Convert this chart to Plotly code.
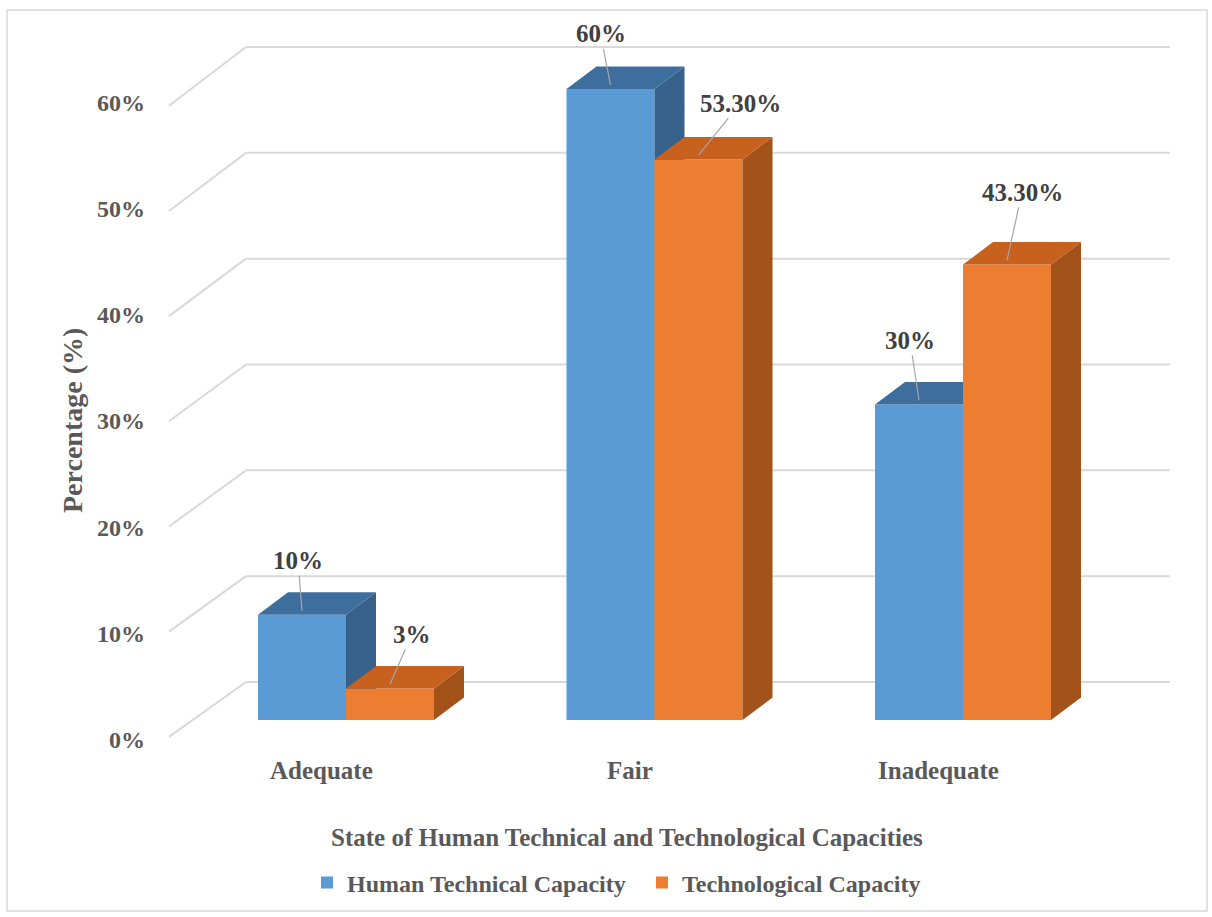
import plotly.graph_objects as go

# ---------------- data ----------------
categories = ["Adequate", "Fair", "Inadequate"]
human_technical = [10, 60, 30]
technological = [3, 53.3, 43.3]
human_labels = ["10%", "60%", "30%"]
tech_labels = ["3%", "53.30%", "43.30%"]
y_ticks = [0, 10, 20, 30, 40, 50, 60]
series_names = ["Human Technical Capacity", "Technological Capacity"]
x_title = "State of Human Technical and Technological Capacities"
y_title = "Percentage (%)"

# ---------------- styling / geometry ----------------
W, H = 1212, 917
PX0, PXS = 346.0, 308.5     # pixel of category 0 centre, pixels per category
PY0, PYS = 720.0, 10.517    # pixel of 0 %, pixels per 1 %


def xd(px):
    return (px - PX0) / PXS


def yd(py):
    return (PY0 - py) / PYS


BAR_W = 88 / PXS
DX, DY = 30 / PXS, 22.5 / PYS

FONT = "Liberation Serif"
TXT = "#595959"
BLUE, BLUE_TOP, BLUE_SIDE = "#5B9BD5", "#3E6E9E", "#35618B"
ORANGE, ORANGE_TOP, ORANGE_SIDE = "#ED7D31", "#C8601E", "#A3521A"
GRID = "#D9D9D9"

# label offsets in pixels (text position relative to bar top)
human_lbl_off = [(-4, -50), (-10, -51), (-9, -60)]
tech_lbl_off = [(22, -50), (42, -52), (15, -68)]

fig = go.Figure()


def add_series(vals, offset, name, c_front, c_top, c_side, yaxis):
    xs = list(range(len(vals)))
    fig.add_trace(go.Bar(
        x=xs, y=vals, width=BAR_W, offset=offset, name=name,
        marker=dict(color=c_front, line=dict(width=0)),
        yaxis=yaxis, hoverinfo="skip", showlegend=True))
    for i, v in enumerate(vals):
        x0 = i + offset
        x1 = x0 + BAR_W
        fig.add_trace(go.Scatter(
            x=[x1, x1 + DX, x1 + DX, x1, x1], y=[0, DY, v + DY, v, 0],
            fill="toself", fillcolor=c_side, mode="lines",
            line=dict(width=0, color=c_side), yaxis=yaxis,
            hoverinfo="skip", showlegend=False))
        fig.add_trace(go.Scatter(
            x=[x0, x0 + DX, x1 + DX, x1, x0], y=[v, v + DY, v + DY, v, v],
            fill="toself", fillcolor=c_top, mode="lines",
            line=dict(width=0, color=c_top), yaxis=yaxis,
            hoverinfo="skip", showlegend=False))


add_series(human_technical, -BAR_W, series_names[0], BLUE, BLUE_TOP, BLUE_SIDE, "y")
add_series(technological, 0, series_names[1], ORANGE, ORANGE_TOP, ORANGE_SIDE, "y2")

# back wall gridlines and diagonals
shapes = []
front_x, back_x, right_x = xd(169), xd(246), xd(1170)
for v in y_ticks:
    by = yd(682) + v * 1.0063
    fy = v - 1.6
    shapes.append(dict(type="line", xref="x", yref="y", x0=back_x, x1=right_x,
                       y0=by, y1=by, line=dict(color=GRID, width=2), layer="below"))
    shapes.append(dict(type="line", xref="x", yref="y", x0=front_x, x1=back_x,
                       y0=fy, y1=by, line=dict(color=GRID, width=2), layer="below"))
# outer chart border
shapes.append(dict(type="rect", xref="paper", yref="paper",
                   x0=7 / W, x1=1207 / W, y0=1 - 911 / H, y1=1 - 10 / H,
                   line=dict(color="#D9D9D9", width=1.5), layer="below"))

annotations = []
# y tick labels
for v in y_ticks:
    annotations.append(dict(x=xd(147), y=v * 1.0095 - 1.9, xref="x", yref="y",
                            text=f"{v}%", showarrow=False, xanchor="right",
                            yanchor="middle",
                            font=dict(family=FONT, size=24, color=TXT, weight="bold")))
# category labels
for i, c in enumerate(categories):
    annotations.append(dict(x=i - 25 / PXS, y=yd(770), xref="x", yref="y",
                            text=c, showarrow=False, xanchor="center", yanchor="middle",
                            font=dict(family=FONT, size=25, color=TXT, weight="bold")))
# data labels with leader lines
for vals, labels, offs, off in [(human_technical, human_labels, human_lbl_off, -BAR_W / 2),
                                (technological, tech_labels, tech_lbl_off, BAR_W / 2)]:
    for i, (v, t, (ax, ay)) in enumerate(zip(vals, labels, offs)):
        annotations.append(dict(x=i + off, y=v + 0.4, xref="x", yref="y", text=t,
                                showarrow=True, arrowhead=0, arrowwidth=1.2,
                                arrowcolor="#A6A6A6", ax=ax, ay=ay, standoff=0,
                                font=dict(family=FONT, size=25, color="#404040",
                                          weight="bold")))
# axis titles
annotations.append(dict(x=627 / W, y=1 - 837 / H, xref="paper", yref="paper",
                        text=x_title, showarrow=False, xanchor="center", yanchor="middle",
                        font=dict(family=FONT, size=25, color=TXT, weight="bold")))
annotations.append(dict(x=72 / W, y=1 - 421 / H, xref="paper", yref="paper",
                        text=y_title, showarrow=False, textangle=-90,
                        xanchor="center", yanchor="middle",
                        font=dict(family=FONT, size=28, color=TXT, weight="bold")))

xr = [xd(0), xd(W)]
yr = [yd(H), yd(0)]
fig.update_layout(
    width=W, height=H, margin=dict(l=0, r=0, t=0, b=0, pad=0),
    paper_bgcolor="white", plot_bgcolor="white",
    xaxis=dict(range=xr, visible=False, fixedrange=True),
    yaxis=dict(range=yr, visible=False, fixedrange=True),
    yaxis2=dict(range=yr, visible=False, overlaying="y", fixedrange=True),
    shapes=shapes, annotations=annotations,
    legend=dict(orientation="h", x=642 / W, xanchor="center", y=1 - 883 / H,
                yanchor="middle", font=dict(family=FONT, size=24, color=TXT, weight="bold"),
                bgcolor="rgba(0,0,0,0)", entrywidth=290, itemwidth=30),
    showlegend=True,
)

fig.write_html("out.html")
